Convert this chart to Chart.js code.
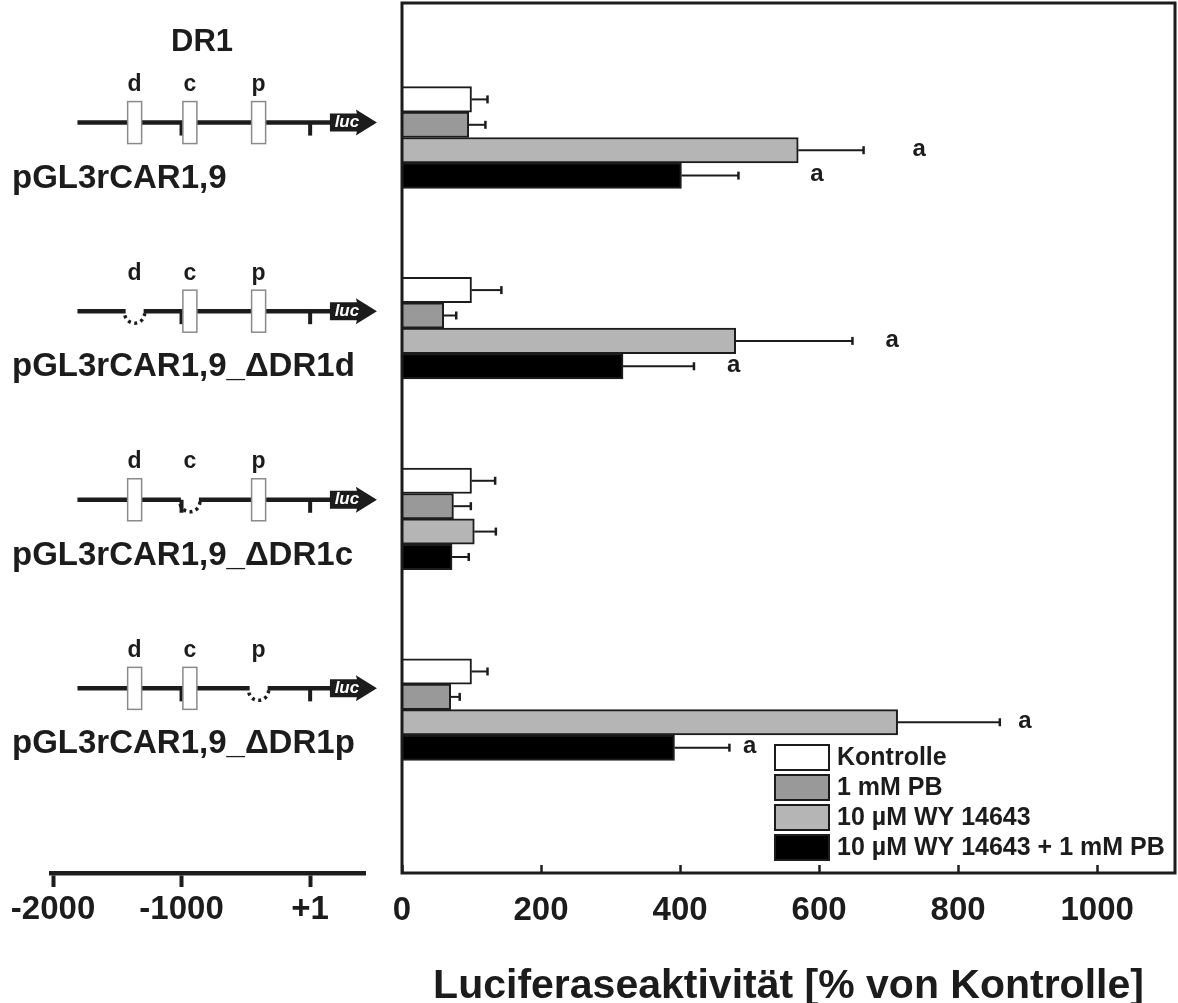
<!DOCTYPE html>
<html>
<head>
<meta charset="utf-8">
<title>Luciferaseaktivität DR1-Konstrukte</title>
<script src="https://cdn.jsdelivr.net/npm/chart.js@4.4.0/dist/chart.umd.min.js"></script>
<style>
    html, body { margin: 0; padding: 0; background: #fff; }
    #wrap { position: relative; width: 1178px; height: 1003px; }
    #wrap canvas { position: absolute; left: 0; top: 0; }
</style>
</head>
<body>
<div id="wrap">
    <canvas id="mapChart" width="1178" height="1003"></canvas>
    <canvas id="barChart" width="1178" height="1003"></canvas>
</div>
<script>
// Constructs (rows) and treatments
const rows = [1, 2, 3, 4];
const constructs = ['pGL3rCAR1,9', 'pGL3rCAR1,9_\u0394DR1d', 'pGL3rCAR1,9_\u0394DR1c', 'pGL3rCAR1,9_\u0394DR1p'];
const treatments = ['Kontrolle', '1 mM PB', '10 \u00b5M WY 14643', '10 \u00b5M WY 14643 + 1 mM PB'];

// Luciferase activity, % of control, with SD
const kontrolle = [100, 100, 100, 100];
const kontrolleSd = [23, 43, 34, 23];
const pb = [96, 60, 74, 70];
const pbSd = [24, 18, 25, 13];
const wy = [570, 480, 104, 713];
const wySd = [94, 168, 31, 147];
const wyPb = [402, 318, 72, 392];
const wyPbSd = [82, 102, 24, 79];

// significance letters and where they sit on the % axis
const wySig = ['a', 'a', '', 'a'];
const wySigAt = [744, 705, 0, 896];
const wyPbSig = ['a', 'a', '', 'a'];
const wyPbSigAt = [597, 477, 0, 500];

const pctTicks = [0, 200, 400, 600, 800, 1000];
const bpTicks = [-2000, -1000, 1];
const bpTickLabels = ['-2000', '-1000', '+1'];

// promoter map (bp relative to transcription start)
const drElements = ['d', 'c', 'p'];
const drPositions = [-1365, -935, -400];
const deletedElement = ['', 'd', 'c', 'p'];
const constructStart = -1810;
const lucStart = 155;

const ink = '#1c1c1c';
const family = "'Liberation Sans', Arial, sans-serif";
Chart.defaults.font.family = family;
Chart.defaults.color = ink;

const series = [
    { label: treatments[0], values: kontrolle, sd: kontrolleSd, color: '#ffffff' },
    { label: treatments[1], values: pb, sd: pbSd, color: '#999999' },
    { label: treatments[2], values: wy, sd: wySd, color: '#b5b5b5' },
    { label: treatments[3], values: wyPb, sd: wyPbSd, color: '#000000' }
];

// ---------- left: promoter constructs ----------
const constructPlugin = {
    id: 'constructs',
    afterDraw(chart) {
        const { ctx, scales: { x, y } } = chart;
        ctx.save();
        ctx.fillStyle = ink;
        ctx.strokeStyle = ink;
        ctx.textAlign = 'center';
        ctx.textBaseline = 'middle';
        ctx.font = `bold 31px ${family}`;
        ctx.fillText('DR1', x.getPixelForValue(-840), 42);

        rows.forEach((row, i) => {
            const ly = y.getPixelForValue(row);
            const x0 = x.getPixelForValue(constructStart);
            const xa = x.getPixelForValue(lucStart);
            const gone = drElements.indexOf(deletedElement[i]);

            // backbone
            ctx.setLineDash([]);
            ctx.lineWidth = 4.5;
            ctx.beginPath();
            if (gone >= 0) {
                const gx = x.getPixelForValue(drPositions[gone]);
                ctx.moveTo(x0, ly); ctx.lineTo(gx - 9, ly);
                ctx.moveTo(gx + 9, ly); ctx.lineTo(xa + 2, ly);
            } else {
                ctx.moveTo(x0, ly); ctx.lineTo(xa + 2, ly);
            }
            ctx.stroke();

            // -1000 and +1 marks
            bpTicks.slice(1).forEach(v => {
                const tx = x.getPixelForValue(v);
                ctx.fillRect(tx - 2, ly, 4, 13);
            });

            // DR1 elements
            drElements.forEach((name, k) => {
                const ex = x.getPixelForValue(drPositions[k]);
                ctx.fillStyle = ink;
                ctx.font = `bold 23px ${family}`;
                ctx.fillText(name, ex, ly - 38);
                if (k === gone) {
                    ctx.setLineDash([3, 3.5]);
                    ctx.lineWidth = 3.5;
                    ctx.beginPath();
                    ctx.arc(ex, ly + 2, 10, 0, Math.PI);
                    ctx.stroke();
                    ctx.setLineDash([]);
                } else {
                    ctx.fillStyle = '#ffffff';
                    ctx.fillRect(ex - 7, ly - 21, 14, 42);
                    ctx.strokeStyle = '#8a8a8a';
                    ctx.lineWidth = 1.5;
                    ctx.strokeRect(ex - 7, ly - 21, 14, 42);
                    ctx.strokeStyle = ink;
                }
            });

            // luc arrow
            ctx.fillStyle = ink;
            ctx.beginPath();
            ctx.moveTo(xa, ly - 9);
            ctx.lineTo(xa + 27, ly - 9);
            ctx.lineTo(xa + 26, ly - 13);
            ctx.lineTo(xa + 47, ly);
            ctx.lineTo(xa + 26, ly + 13);
            ctx.lineTo(xa + 27, ly + 9);
            ctx.lineTo(xa, ly + 9);
            ctx.closePath();
            ctx.fill();
            ctx.fillStyle = '#ffffff';
            ctx.font = `italic bold 17px ${family}`;
            ctx.fillText('luc', xa + 17, ly);

            // construct name
            ctx.fillStyle = ink;
            ctx.textAlign = 'left';
            ctx.font = `bold 33px ${family}`;
            ctx.fillText(constructs[i], 12, ly + 56);
            ctx.textAlign = 'center';
        });
        ctx.restore();
    }
};

new Chart(document.getElementById('mapChart'), {
    type: 'scatter',
    data: { datasets: [] },
    options: {
        responsive: false,
        animation: false,
        layout: { padding: { left: 51, right: 813, top: 3, bottom: 0 } },
        plugins: { legend: { display: false }, tooltip: { enabled: false } },
        scales: {
            x: {
                type: 'linear',
                min: -2016,
                max: 428,
                border: { display: true, width: 4.5, color: ink },
                grid: { drawOnChartArea: false, tickLength: 14, tickWidth: 4, tickColor: ink },
                ticks: {
                    padding: 3,
                    color: ink,
                    font: { size: 33, weight: 'bold' },
                    callback: v => bpTickLabels[bpTicks.indexOf(v)]
                },
                afterBuildTicks: s => { s.ticks = bpTicks.map(v => ({ value: v })); },
                afterFit: s => { s.height = 130; }
            },
            y: { type: 'linear', reverse: true, min: 0.366, max: 4.979, display: false }
        }
    },
    plugins: [constructPlugin]
});

// ---------- right: luciferase bars ----------
const errorBars = {
    id: 'errorBars',
    afterDatasetsDraw(chart) {
        const { ctx, scales: { x } } = chart;
        ctx.save();
        ctx.strokeStyle = ink;
        series.forEach((s, i) => {
            chart.getDatasetMeta(i).data.forEach((bar, j) => {
                const x1 = x.getPixelForValue(s.values[j]);
                const x2 = x.getPixelForValue(s.values[j] + s.sd[j]);
                ctx.lineWidth = 2;
                ctx.beginPath();
                ctx.moveTo(x1, bar.y);
                ctx.lineTo(x2, bar.y);
                ctx.stroke();
                ctx.lineWidth = 2.5;
                ctx.beginPath();
                ctx.moveTo(x2, bar.y - 4);
                ctx.lineTo(x2, bar.y + 4);
                ctx.stroke();
            });
        });
        ctx.restore();
    }
};

const sigLetters = {
    id: 'sigLetters',
    afterDatasetsDraw(chart) {
        const { ctx, scales: { x } } = chart;
        ctx.save();
        ctx.fillStyle = ink;
        ctx.font = `bold 24px ${family}`;
        ctx.textAlign = 'center';
        ctx.textBaseline = 'middle';
        [[2, wySig, wySigAt], [3, wyPbSig, wyPbSigAt]].forEach(([di, sig, at]) => {
            chart.getDatasetMeta(di).data.forEach((bar, j) => {
                if (sig[j]) ctx.fillText(sig[j], x.getPixelForValue(at[j]), bar.y - 1);
            });
        });
        ctx.restore();
    }
};

const frameAndLegend = {
    id: 'frameAndLegend',
    afterDraw(chart) {
        const { ctx, chartArea: a } = chart;
        ctx.save();
        ctx.strokeStyle = ink;
        ctx.lineWidth = 3;
        ctx.strokeRect(a.left, a.top, a.right - a.left, a.bottom - a.top);

        const lx = a.left + 373;
        const ly = 745;
        ctx.font = `bold 25px ${family}`;
        ctx.textAlign = 'left';
        ctx.textBaseline = 'middle';
        series.forEach((s, i) => {
            const top = ly + i * 30;
            ctx.fillStyle = s.color;
            ctx.fillRect(lx, top, 54, 25);
            ctx.lineWidth = 2;
            ctx.strokeRect(lx, top, 54, 25);
            ctx.fillStyle = ink;
            ctx.fillText(s.label, lx + 62, top + 13);
        });
        ctx.restore();
    }
};

new Chart(document.getElementById('barChart'), {
    type: 'bar',
    data: {
        datasets: series.map(s => ({
            label: s.label,
            data: rows.map((r, j) => ({ x: s.values[j], y: r })),
            backgroundColor: s.color,
            borderColor: ink,
            borderWidth: 2,
            barThickness: 25.4
        }))
    },
    options: {
        indexAxis: 'y',
        responsive: false,
        animation: false,
        layout: { padding: { left: 402, right: 3, top: 3, bottom: 0 } },
        plugins: { legend: { display: false }, tooltip: { enabled: false } },
        scales: {
            x: {
                type: 'linear',
                min: 0,
                max: 1112,
                border: { display: false },
                grid: { drawOnChartArea: false, tickLength: -8, tickWidth: 2.5, tickColor: ink },
                ticks: {
                    padding: 26,
                    color: ink,
                    font: { size: 33, weight: 'bold' },
                    callback: v => String(v)
                },
                title: {
                    display: true,
                    text: 'Luciferaseaktivit\u00e4t [% von Kontrolle]',
                    color: ink,
                    font: { size: 41, weight: 'bold', lineHeight: 0.8 },
                    padding: 0
                },
                afterBuildTicks: s => { s.ticks = pctTicks.map(v => ({ value: v })); },
                afterFit: s => { s.height = 130; }
            },
            y: {
                type: 'linear',
                reverse: true,
                offset: false,
                min: 0.2947,
                max: 4.857,
                display: false
            }
        }
    },
    plugins: [errorBars, sigLetters, frameAndLegend]
});
</script>
</body>
</html>
